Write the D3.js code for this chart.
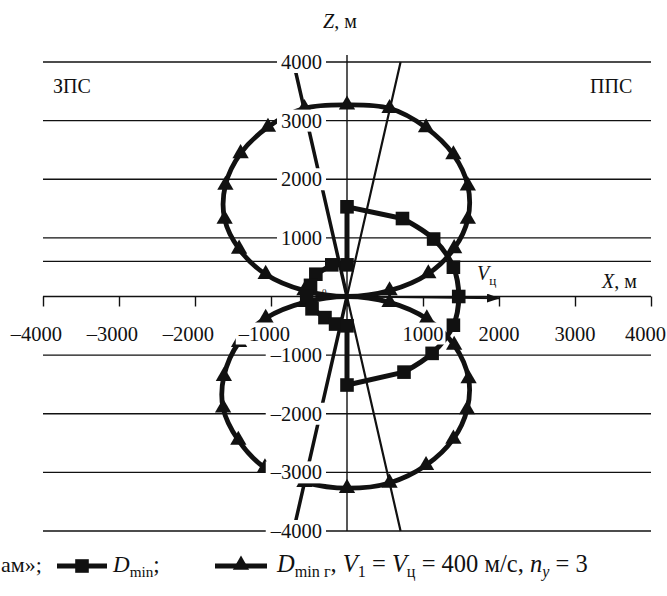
<!DOCTYPE html>
<html>
<head>
<meta charset="utf-8">
<script src="https://cdn.jsdelivr.net/npm/d3@7"></script>
<style>
  body { margin: 0; background: #fff; }
  svg { display: block; }
  text { font-family: "Liberation Serif", "Times New Roman", serif; fill: #111; }
</style>
</head>
<body>
<svg id="chart" width="667" height="596"></svg>
<script>
const xTicks = [-4000, -3000, -2000, -1000, 1000, 2000, 3000, 4000];
const zTicks = [4000, 3000, 2000, 1000, -1000, -2000, -3000, -4000];
const gridLevels = [4000, 3000, 2000, 1000, 600, -1000, -2000, -3000, -4000];

// D_min г, triangles, read roughly every 10 degrees
const dminGUpper = [[0, 0], [560, 100], [1070, 390], [1410, 820], [1590, 1320], [1590, 1890], [1400, 2420],
  [1040, 2880], [560, 3210], [0, 3270], [-560, 3210], [-1040, 2890], [-1400, 2440], [-1600, 1900],
  [-1610, 1320], [-1420, 810], [-1070, 380], [-560, 100]];
const dminGLower = [[0, 0], [560, -100], [1050, -380], [1410, -830], [1600, -1400], [1580, -1930], [1400, -2430],
  [1040, -2880], [560, -3180], [0, -3270], [-560, -3170], [-1080, -2920], [-1430, -2450], [-1630, -1900],
  [-1620, -1360], [-1420, -780], [-1070, -370], [-560, -100]];

// D_min, squares
const dminArc = [[730, 1330], [1140, 980], [1400, 500], [1470, 0], [1400, -490], [1120, -970], [750, -1290]];
const dminTop = [[730, 1330], [0, 1530], [0, 540]];
const dminLeft = [[0, 540], [-200, 540], [-410, 380], [-480, 190], [-530, 0], [-460, -210], [-290, -360], [-150, -470], [0, -500]];
const dminBottom = [[0, -500], [0, -1510], [750, -1290]];

// boundary lines through the origin
const boundThick = [[-705, 4000], [0, 0], [-705, -4000]];
const boundThin = [[705, 4000], [0, 0], [705, -4000]];
const velocityArrow = [[0, 0], [2000, -30]];

const svg = d3.select("#chart");
const x = d3.scaleLinear().domain([-4000, 4000]).range([43, 651]);
const y = d3.scaleLinear().domain([-4000, 4000]).range([531, 62]);
const ink = "#111";

const line = d3.line().x(d => x(d[0])).y(d => y(d[1]));

// grid
svg.append("g").selectAll("line")
  .data(gridLevels)
  .enter().append("line")
  .attr("x1", x(-4000)).attr("x2", x(4000))
  .attr("y1", d => y(d)).attr("y2", d => y(d))
  .attr("stroke", ink).attr("stroke-width", 1.4);

// axes
const xAxis = svg.append("g").attr("transform", `translate(0,${y(0)})`)
  .call(d3.axisBottom(x).tickValues(d3.range(-4000, 4001, 1000)).tickSize(10).tickFormat(""));
xAxis.select(".domain").attr("d", `M${x(-4000)},0H${x(4000)}`).attr("stroke", ink).attr("stroke-width", 1.4);
xAxis.selectAll(".tick line").attr("stroke", ink).attr("stroke-width", 1.4);

svg.append("line")
  .attr("x1", x(0)).attr("x2", x(0))
  .attr("y1", 55).attr("y2", y(-4000))
  .attr("stroke", ink).attr("stroke-width", 1.4);

// boundaries and velocity
svg.append("path").attr("d", line(boundThick)).attr("fill", "none").attr("stroke", ink).attr("stroke-width", 3.5);
svg.append("path").attr("d", line(boundThin)).attr("fill", "none").attr("stroke", ink).attr("stroke-width", 2.2);

svg.append("defs").append("marker")
  .attr("id", "arrow").attr("viewBox", "0 0 13 9").attr("refX", 12).attr("refY", 4.5)
  .attr("markerWidth", 13).attr("markerHeight", 9).attr("markerUnits", "userSpaceOnUse").attr("orient", "auto")
  .append("path").attr("d", "M0,0L13,4.5L0,9Z").attr("fill", ink);
svg.append("path").attr("d", line(velocityArrow)).attr("stroke", ink).attr("stroke-width", 1.8)
  .attr("marker-end", "url(#arrow)");

// D_min г loops
const loop = d3.line().x(d => x(d[0])).y(d => y(d[1])).curve(d3.curveCatmullRomClosed.alpha(0.5));
[dminGUpper, dminGLower].forEach(pts => {
  svg.append("path").attr("d", loop(pts)).attr("fill", "none").attr("stroke", ink).attr("stroke-width", 4.8);
});

// D_min
const arc = d3.line().x(d => x(d[0])).y(d => y(d[1])).curve(d3.curveCatmullRom.alpha(0.5));
svg.append("path").attr("d", arc(dminArc)).attr("fill", "none").attr("stroke", ink).attr("stroke-width", 5);
[dminTop, dminLeft, dminBottom].forEach(pts => {
  svg.append("path").attr("d", line(pts)).attr("fill", "none").attr("stroke", ink)
    .attr("stroke-width", 5).attr("stroke-linejoin", "miter");
});

const triangle = d3.symbol().type(d3.symbolTriangle).size(115);
const square = d3.symbol().type(d3.symbolSquare).size(185);

const triPts = dminGUpper.slice(1).concat(dminGLower.slice(1));
svg.append("g").selectAll("path")
  .data(triPts)
  .enter().append("path")
  .attr("transform", d => `translate(${x(d[0])},${y(d[1])})`)
  .attr("d", triangle).attr("fill", ink);

const sqPts = dminArc.concat(dminTop.slice(1), dminLeft.slice(1), [dminBottom[1]]);
svg.append("g").selectAll("path")
  .data(sqPts)
  .enter().append("path")
  .attr("transform", d => `translate(${x(d[0])},${y(d[1])})`)
  .attr("d", square).attr("fill", ink);

// labels with white backing
function backed(t, padX) {
  const b = t.node().getBBox();
  svg.insert("rect", () => t.node())
    .attr("x", b.x - padX).attr("y", b.y)
    .attr("width", b.width + 2 * padX).attr("height", b.height)
    .attr("fill", "#fff");
}

const fmt = v => (v < 0 ? "\u2013" : "") + Math.abs(v);

zTicks.forEach(v => {
  const t = svg.append("text")
    .attr("x", 322).attr("y", y(v) + 7)
    .attr("text-anchor", "end").attr("font-size", 20.5)
    .text(fmt(v));
  backed(t, 4);
});

xTicks.forEach(v => {
  let xPos = x(v), anchor = "middle";
  if (v < 0) { xPos = x(v) + 19; anchor = "end"; }
  if (v === 4000) { xPos = 666; anchor = "end"; }
  const t = svg.append("text")
    .attr("x", xPos).attr("y", y(0) + 44)
    .attr("text-anchor", anchor).attr("font-size", 20.5)
    .text(fmt(v));
  backed(t, 2);
});

svg.append("text").attr("x", 322).attr("y", 295).attr("font-size", 9).text("0");

function rich(xPos, yPos, parts, size) {
  const t = svg.append("text").attr("x", xPos).attr("y", yPos).attr("font-size", size);
  parts.forEach(p => {
    const s = t.append("tspan").text(p.t);
    if (p.i) s.attr("font-style", "italic");
    if (p.sub) s.attr("font-size", size * 0.66).attr("dy", 5);
    if (p.up) s.attr("dy", -5);
  });
  return t;
}

rich(323, 28, [{ t: "Z", i: true }, { t: ", м" }], 20);
rich(602, 288, [{ t: "X", i: true }, { t: ", м" }], 20);
rich(477, 280, [{ t: "V", i: true }, { t: "ц", sub: true }], 20);
svg.append("text").attr("x", 53).attr("y", 93).attr("font-size", 20).text("ЗПС");
svg.append("text").attr("x", 590).attr("y", 93).attr("font-size", 20).text("ППС");

// legend
const legY = 572;
svg.append("text").attr("x", 1).attr("y", legY).attr("font-size", 22).text("ам»;");
svg.append("line").attr("x1", 57).attr("x2", 107).attr("y1", legY - 6).attr("y2", legY - 6)
  .attr("stroke", ink).attr("stroke-width", 5);
svg.append("path").attr("transform", `translate(82,${legY - 6})`).attr("d", square).attr("fill", ink);
rich(113, legY, [{ t: "D", i: true }, { t: "min", sub: true }, { t: ";", up: true }], 23);

svg.append("line").attr("x1", 215).attr("x2", 267).attr("y1", legY - 6).attr("y2", legY - 6)
  .attr("stroke", ink).attr("stroke-width", 4.8);
svg.append("path").attr("transform", `translate(241,${legY - 7})`).attr("d", triangle).attr("fill", ink);
rich(277, legY, [
  { t: "D", i: true }, { t: "min г", sub: true }, { t: ", ", up: true }, { t: "V", i: true },
  { t: "1", sub: true }, { t: " = ", up: true }, { t: "V", i: true }, { t: "ц", sub: true },
  { t: " = 400 м/с, ", up: true }, { t: "n", i: true }, { t: "y", sub: true, i: true }, { t: " = 3", up: true }
], 24.5);
</script>
</body>
</html>
